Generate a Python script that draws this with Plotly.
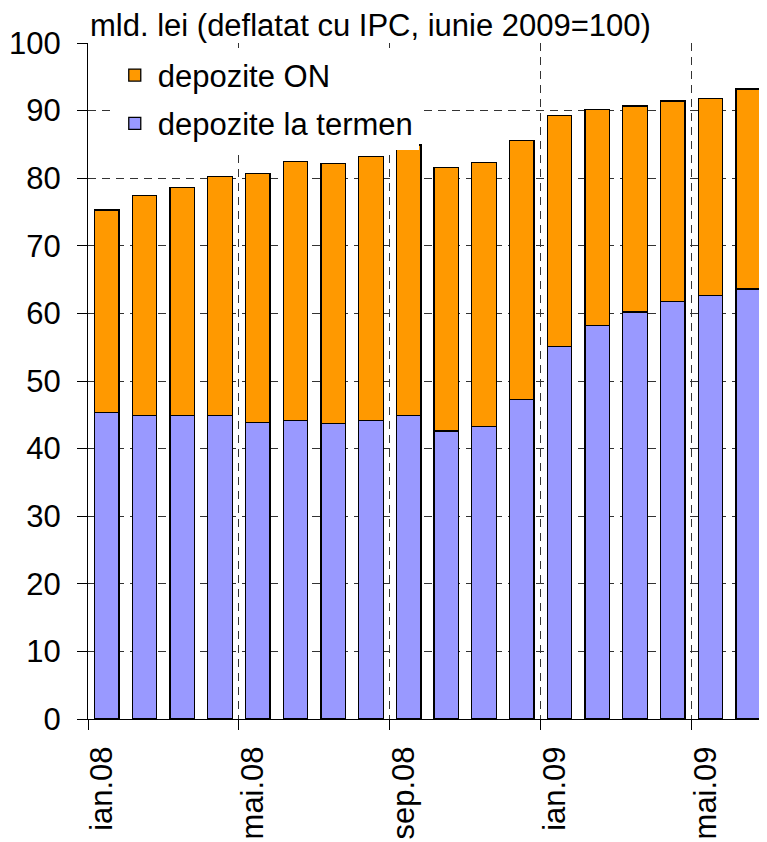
import plotly.graph_objects as go

months = ["ian.08", "feb.08", "mar.08", "apr.08", "mai.08", "iun.08", "iul.08", "aug.08",
          "sep.08", "oct.08", "noi.08", "dec.08", "ian.09", "feb.09", "mar.09", "apr.09",
          "mai.09", "iun.09"]
depozite_la_termen = [45.3, 44.9, 44.9, 44.9, 43.9, 44.2, 43.7, 44.2, 44.9, 42.6, 43.3, 47.3,
                      55.1, 58.2, 60.2, 61.8, 62.7, 63.6]
depozite_on = [30.0, 32.5, 33.7, 35.4, 36.8, 38.3, 38.5, 39.0, 40.0, 39.0, 39.0, 38.3,
               34.2, 32.0, 30.5, 29.6, 29.1, 29.6]
tick_labels = ["ian.08", "mai.08", "sep.08", "ian.09", "mai.09"]
tick_months = ["ian.08", "mai.08", "sep.08", "ian.09", "mai.09"]
y_ticks = [0, 10, 20, 30, 40, 50, 60, 70, 80, 90, 100]
title_text = "mld. lei (deflatat cu IPC, iunie 2009=100)"

x_idx = list(range(len(months)))
tick_pos = [months.index(m) - 0.5 for m in tick_months]

FONT = "Liberation Sans, Arial, sans-serif"
FS = 31

fig = go.Figure()
fig.add_trace(go.Bar(
    x=x_idx, y=depozite_la_termen, name="depozite la termen", legendgroup="t", legendrank=2,
    marker=dict(color="#9999FF", line=dict(color="#000000", width=1.3)),
))
fig.add_trace(go.Bar(
    x=x_idx, y=depozite_on, name="depozite ON", legendgroup="o", legendrank=1,
    marker=dict(color="#FF9900", line=dict(color="#000000", width=1.3)),
))

# page body has an 8px default margin; figure sized so the plot lands where the reference's does
fig.update_layout(
    width=759, height=834,
    margin=dict(l=80, r=0, t=35, b=123, autoexpand=False),
    barmode="stack", bargap=0.35,
    plot_bgcolor="white", paper_bgcolor="white",
    font=dict(family=FONT, size=FS, color="#000000"),
    showlegend=True,
    legend=dict(
        x=0.035, y=0.992, xanchor="left", yanchor="top",
        traceorder="grouped", bgcolor="white", tracegroupgap=5,
        font=dict(size=FS), itemwidth=36,
    ),
    annotations=[dict(
        text=title_text, xref="paper", yref="paper", x=0.0, y=1.0,
        xanchor="left", yanchor="bottom", showarrow=False, xshift=0, yshift=-2,
        font=dict(size=FS),
    )],
)

fig.update_xaxes(
    range=[-0.5, len(months) - 0.5], automargin=False,
    tickmode="array", tickvals=tick_pos, ticktext=tick_labels,
    tickangle=-90, ticks="outside", ticklen=10, tickcolor="#000000",
    showline=True, linecolor="#000000", linewidth=1,
    showgrid=True, gridcolor="#333333", griddash="8px,6px", gridwidth=1,
    zeroline=False, ticklabelstandoff=4, ticklabelshift=14,
)
fig.update_yaxes(
    range=[0, 100], automargin=False, tickmode="array", tickvals=y_ticks,
    ticks="outside", ticklen=10, tickcolor="#000000",
    showline=True, linecolor="#000000", linewidth=1,
    showgrid=True, gridcolor="#333333", griddash="8px,6px", gridwidth=1,
    zeroline=False, ticklabelstandoff=10,
)

fig.write_html("out.html")
